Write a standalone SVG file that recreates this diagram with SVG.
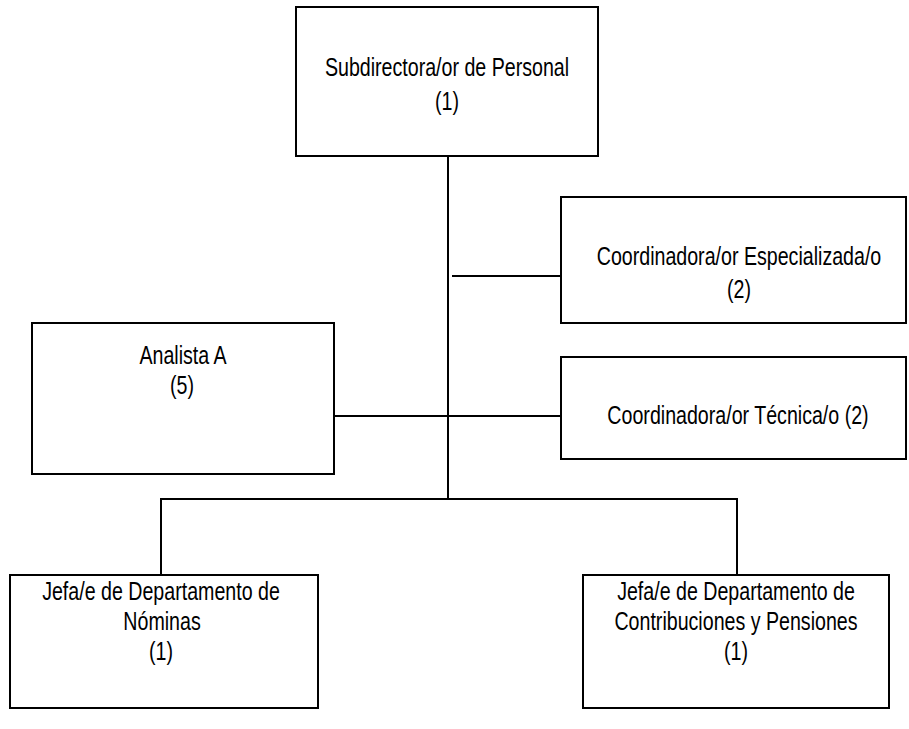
<svg xmlns="http://www.w3.org/2000/svg" width="909" height="729" viewBox="0 0 909 729">
<style>
.box{fill:#fff;stroke:#000;stroke-width:2}
.ln{stroke:#000;stroke-width:2;fill:none}
text{font-family:"Liberation Sans",Arial,sans-serif;font-size:26px;fill:#000;text-anchor:middle}
</style>
<rect width="909" height="729" fill="#fff"/>
<g id="connectors">
<path class="ln" d="M448,156 V499"/>
<path class="ln" d="M452,276 H561"/>
<path class="ln" d="M334,416 H561"/>
<path class="ln" d="M161,575 V499 H737 V575"/>
</g>
<g id="n-subdirectora">
<rect class="box" x="296" y="7" width="302" height="149"/>
<text transform="translate(447,76) scale(0.755,1)">Subdirectora/or de Personal</text>
<text transform="translate(447,110) scale(0.755,1)">(1)</text>
</g>
<g id="n-coord-esp">
<rect class="box" x="561" y="197" width="345" height="126"/>
<text transform="translate(739,265) scale(0.755,1)">Coordinadora/or Especializada/o</text>
<text transform="translate(739,298) scale(0.755,1)">(2)</text>
</g>
<g id="n-analista">
<rect class="box" x="32" y="323" width="302" height="151"/>
<text transform="translate(183,364) scale(0.755,1)">Analista A</text>
<text transform="translate(182,394) scale(0.755,1)">(5)</text>
</g>
<g id="n-coord-tec">
<rect class="box" x="561" y="357" width="345" height="102"/>
<text transform="translate(738,424) scale(0.755,1)">Coordinadora/or Técnica/o (2)</text>
</g>
<g id="n-jefa-nominas">
<rect class="box" x="10" y="575" width="308" height="133"/>
<text transform="translate(161,600) scale(0.755,1)">Jefa/e de Departamento de</text>
<text transform="translate(162,630) scale(0.755,1)">Nóminas</text>
<text transform="translate(161,660) scale(0.755,1)">(1)</text>
</g>
<g id="n-jefa-contrib">
<rect class="box" x="583" y="575" width="306" height="133"/>
<text transform="translate(736,600) scale(0.755,1)">Jefa/e de Departamento de</text>
<text transform="translate(736,630) scale(0.755,1)">Contribuciones y Pensiones</text>
<text transform="translate(736,660) scale(0.755,1)">(1)</text>
</g>
</svg>
